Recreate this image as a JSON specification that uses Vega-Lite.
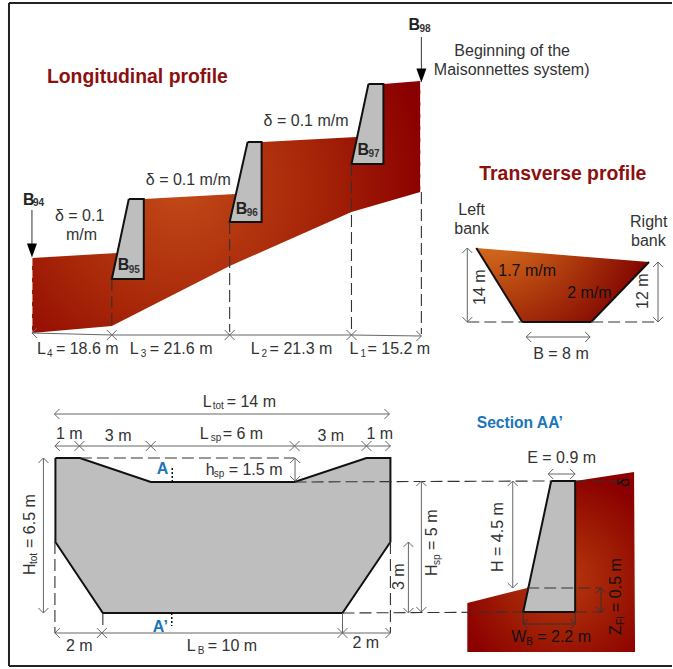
{
"$schema":"https://vega.github.io/schema/vega-lite/v6.json",
"width":673,"height":669,"padding":0,
"autosize":{"type":"fit","contains":"padding"},
"background":"white",
"config":{"view":{"stroke":null},"text":{"font":"Liberation Sans"}},
"datasets":{
"frame":[{"x":9,"y":3,"x2":673,"y2":3},{"x":9,"y":3,"x2":9,"y2":666},{"x":9,"y":666,"x2":673,"y2":666}],
"longitudinal":[{"i":1,"x":32,"y":258},{"i":2,"x":117,"y":253},{"i":3,"x":129,"y":199},{"i":4,"x":144,"y":199},{"i":5,"x":236,"y":194},{"i":6,"x":248,"y":142},{"i":7,"x":263,"y":142},{"i":8,"x":357,"y":137},{"i":9,"x":369,"y":84},{"i":10,"x":384,"y":84},{"i":11,"x":421,"y":81},{"i":12,"x":421,"y":192},{"i":13,"x":352,"y":212},{"i":14,"x":230,"y":266},{"i":15,"x":112,"y":326},{"i":16,"x":32,"y":333}],
"transverse":[{"i":1,"x":477,"y":248},{"i":2,"x":650,"y":262},{"i":3,"x":592,"y":322},{"i":4,"x":523,"y":322}],
"sectionSoil":[{"i":1,"x":576,"y":481},{"i":2,"x":635,"y":472},{"i":3,"x":636,"y":652},{"i":4,"x":468,"y":652},{"i":5,"x":468,"y":603},{"i":6,"x":528,"y":588}],
"masonry":[
{"p":"B95","i":1,"x":129,"y":199},{"p":"B95","i":2,"x":144,"y":199},{"p":"B95","i":3,"x":144,"y":279},{"p":"B95","i":4,"x":112,"y":279},{"p":"B95","i":5,"x":129,"y":199},
{"p":"B96","i":1,"x":248,"y":142},{"p":"B96","i":2,"x":262,"y":142},{"p":"B96","i":3,"x":262,"y":222},{"p":"B96","i":4,"x":230,"y":222},{"p":"B96","i":5,"x":248,"y":142},
{"p":"B97","i":1,"x":369,"y":84},{"p":"B97","i":2,"x":384,"y":84},{"p":"B97","i":3,"x":384,"y":164},{"p":"B97","i":4,"x":352,"y":164},{"p":"B97","i":5,"x":369,"y":84},
{"p":"AA","i":1,"x":552,"y":481},{"p":"AA","i":2,"x":576,"y":481},{"p":"AA","i":3,"x":576,"y":612},{"p":"AA","i":4,"x":524,"y":612},{"p":"AA","i":5,"x":552,"y":481},
{"p":"front","i":1,"x":55.5,"y":458},{"p":"front","i":2,"x":80,"y":458},{"p":"front","i":3,"x":151,"y":482},{"p":"front","i":4,"x":295,"y":482},{"p":"front","i":5,"x":367,"y":458},{"p":"front","i":6,"x":391,"y":458},{"p":"front","i":7,"x":391,"y":542},{"p":"front","i":8,"x":343,"y":613},{"p":"front","i":9,"x":103,"y":613},{"p":"front","i":10,"x":55.5,"y":542},{"p":"front","i":11,"x":55.5,"y":458}],
"dims":[
{"x":32,"y":333,"x2":112,"y2":335},{"x":112,"y":335,"x2":230,"y2":335},{"x":230,"y":335,"x2":352,"y2":335},{"x":352,"y":335,"x2":422,"y2":336},
{"x":468,"y":248,"x2":468,"y2":322},{"x":659,"y":262,"x2":659,"y2":322},{"x":527,"y":337,"x2":591,"y2":337},
{"x":54.5,"y":414,"x2":390,"y2":414},{"x":55,"y":446,"x2":391,"y2":446},
{"x":295.5,"y":458,"x2":295.5,"y2":481},{"x":43.5,"y":458,"x2":43.5,"y2":613},{"x":409,"y":542,"x2":409,"y2":613},
{"x":55,"y":633,"x2":391,"y2":633},{"x":422,"y":481,"x2":422,"y2":612},{"x":513.5,"y":481,"x2":513.5,"y2":588},{"x":549,"y":474,"x2":576,"y2":474},
{"x":343,"y":613,"x2":343,"y2":633}],
"darkDims":[{"x":602,"y":588,"x2":602,"y2":612},{"x":524,"y":624,"x2":576,"y2":624},{"x":524,"y":612,"x2":524,"y2":624},{"x":576,"y":612,"x2":576,"y2":624},{"x":32,"y":210,"x2":32,"y2":244},{"x":422,"y":37,"x2":422,"y2":69}],
"dashes":[
{"x":112,"y":279,"x2":112,"y2":328},{"x":230,"y":222,"x2":230,"y2":332},{"x":352,"y":164,"x2":352,"y2":333},{"x":422,"y":192,"x2":422,"y2":334},
{"x":468,"y":322,"x2":523,"y2":322},{"x":592,"y":322,"x2":660,"y2":322},
{"x":80,"y":458,"x2":295,"y2":458},{"x":295,"y":482,"x2":552,"y2":481},{"x":343,"y":613,"x2":524,"y2":612},
{"x":391,"y":542,"x2":391,"y2":633},{"x":55,"y":542,"x2":55,"y2":633},{"x":103,"y":613,"x2":103,"y2":630},
{"x":528,"y":588,"x2":602,"y2":588},{"x":576,"y":612,"x2":604,"y2":612},{"x":576,"y":481,"x2":625,"y2":481}],
"whiteDashes":[{"x":32,"y":258,"x2":32,"y2":333},{"x":421.5,"y":82,"x2":421.5,"y2":192}],
"dotted":[{"x":172.5,"y":468,"x2":172.5,"y2":482},{"x":172,"y":613,"x2":172,"y2":626}],
"bankEdges":[{"x":477,"y":248,"x2":523,"y2":322},{"x":650,"y":262,"x2":592,"y2":322},{"x":523,"y":322,"x2":592,"y2":322}],
"arrowheads":[
{"x":32,"y":333,"dir":180},{"x":112,"y":335,"dir":0},{"x":112,"y":335,"dir":180},{"x":230,"y":335,"dir":0},{"x":230,"y":335,"dir":180},{"x":352,"y":335,"dir":0},{"x":352,"y":335,"dir":180},{"x":422,"y":336,"dir":0},
{"x":468,"y":248,"dir":270},{"x":468,"y":322,"dir":90},{"x":659,"y":262,"dir":270},{"x":659,"y":322,"dir":90},{"x":527,"y":337,"dir":180},{"x":591,"y":337,"dir":0},
{"x":54.5,"y":414,"dir":180},{"x":390,"y":414,"dir":0},
{"x":55,"y":446,"dir":180},{"x":79.5,"y":446,"dir":0},{"x":79.5,"y":446,"dir":180},{"x":151,"y":446,"dir":0},{"x":151,"y":446,"dir":180},{"x":295,"y":446,"dir":0},{"x":295,"y":446,"dir":180},{"x":367,"y":446,"dir":0},{"x":367,"y":446,"dir":180},{"x":391,"y":446,"dir":0},
{"x":295.5,"y":458,"dir":270},{"x":295.5,"y":481,"dir":90},{"x":43.5,"y":458,"dir":270},{"x":43.5,"y":613,"dir":90},{"x":409,"y":542,"dir":270},{"x":409,"y":613,"dir":90},
{"x":55,"y":633,"dir":180},{"x":102,"y":633,"dir":0},{"x":102,"y":633,"dir":180},{"x":343,"y":633,"dir":0},{"x":343,"y":633,"dir":180},{"x":391,"y":633,"dir":0},
{"x":422,"y":481,"dir":270},{"x":422,"y":612,"dir":90},{"x":513.5,"y":481,"dir":270},{"x":513.5,"y":588,"dir":90},{"x":549,"y":474,"dir":180},{"x":576,"y":474,"dir":0}],
"darkArrowheads":[{"x":602,"y":588,"dir":270},{"x":602,"y":612,"dir":90},{"x":524,"y":624,"dir":180},{"x":576,"y":624,"dir":0}],
"solidArrows":[{"x":32,"y":250.5},{"x":422,"y":75.5}],
"labels":[
{"x":37,"y":349,"t":"L"},{"x":56,"y":349,"t":"= 18.6 m"},{"x":130,"y":349,"t":"L"},{"x":150,"y":349,"t":"= 21.6 m"},{"x":251,"y":349,"t":"L"},{"x":270,"y":349,"t":"= 21.3 m"},{"x":350,"y":349,"t":"L"},{"x":368,"y":349,"t":"= 15.2 m"},
{"x":264,"y":121,"t":"δ  = 0.1 m/m"},{"x":146,"y":180,"t":"δ  = 0.1 m/m"},{"x":55,"y":216,"t":"δ  = 0.1"},{"x":66,"y":235,"t":"m/m"},
{"x":455,"y":51,"t":"Beginning of the"},{"x":434.5,"y":70,"t":"Maisonnettes system)"},
{"x":459,"y":210,"t":"Left"},{"x":455,"y":229,"t":"bank"},{"x":631,"y":222,"t":"Right"},{"x":632,"y":241,"t":"bank"},
{"x":534,"y":354,"t":"B = 8 m"},
{"x":203,"y":402,"t":"L"},{"x":227,"y":402,"t":"= 14 m"},{"x":56,"y":434,"t":"1 m"},{"x":105,"y":436,"t":"3 m"},{"x":200,"y":434,"t":"L"},{"x":223,"y":434,"t":"= 6 m"},{"x":318,"y":436,"t":"3 m"},{"x":367,"y":434,"t":"1 m"},
{"x":206,"y":470,"t":"h"},{"x":229,"y":470,"t":"= 1.5 m"},{"x":528,"y":458,"t":"E = 0.9 m"},
{"x":66,"y":646,"t":"2 m"},{"x":187,"y":646,"t":"L"},{"x":208,"y":646,"t":"= 10 m"},{"x":353,"y":643,"t":"2 m"}],
"labelsOnSoil":[{"x":499,"y":271,"t":"1.7 m/m"},{"x":568,"y":293,"t":"2 m/m"},{"x":512,"y":637,"t":"W"},{"x":538,"y":637,"t":"= 2.2 m"}],
"subs":[{"x":47,"y":354,"t":"4"},{"x":141,"y":354,"t":"3"},{"x":262,"y":354,"t":"2"},{"x":361,"y":354,"t":"1"},{"x":213,"y":406,"t":"tot"},{"x":211,"y":438,"t":"sp"},{"x":214,"y":474,"t":"sp"},{"x":198,"y":651,"t":"B"}],
"subsOnSoil":[{"x":527,"y":642,"t":"B"}],
"vertLabels":[{"x":481,"y":305,"t":"14 m"},{"x":30,"y":575,"t":"H"},{"x":30,"y":548,"t":"= 6.5 m"},{"x":433,"y":576,"t":"H"},{"x":433,"y":550,"t":"= 5 m"},{"x":400,"y":590,"t":"3 m"},{"x":499,"y":572,"t":"H = 4.5 m"},{"x":644,"y":309,"t":"12 m"}],
"vertLabelsOnSoil":[{"x":617,"y":635,"t":"Z"},{"x":617,"y":612,"t":"= 0.5 m"},{"x":625,"y":487,"t":"δ"}],
"vertSubs":[{"x":34,"y":564,"t":"tot"},{"x":438,"y":565,"t":"sp"}],
"vertSubsOnSoil":[{"x":622,"y":625,"t":"FI"}],
"bLabels":[{"x":23,"y":200,"t":"B"},{"x":409,"y":25,"t":"B"},{"x":118,"y":265,"t":"B"},{"x":236,"y":209,"t":"B"},{"x":358,"y":150,"t":"B"}],
"bSubs":[{"x":33,"y":203,"t":"94"},{"x":420,"y":29,"t":"98"},{"x":129,"y":270,"t":"95"},{"x":247,"y":213,"t":"96"},{"x":369,"y":154,"t":"97"}],
"titles":[{"x":47,"y":77,"t":"Longitudinal profile"},{"x":480,"y":174,"t":"Transverse profile"}],
"blue":[{"x":157,"y":469,"t":"A"},{"x":153,"y":627,"t":"A’"}],
"section":[{"x":477.5,"y":423,"t":"Section AA’"}]
},
"encoding":{
"x":{"field":"x","type":"quantitative","scale":{"domain":[0,673],"nice":false,"zero":false},"axis":null},
"y":{"field":"y","type":"quantitative","scale":{"domain":[669,0],"nice":false,"zero":false},"axis":null}
},
"layer":[
{"data":{"name":"frame"},"mark":{"type":"rule","stroke":"#222","strokeWidth":2},"encoding":{"x2":{"field":"x2"},"y2":{"field":"y2"}}},
{"data":{"name":"longitudinal"},"mark":{"type":"line","strokeWidth":0,"fill":{"gradient":"radial","x1":0.38,"y1":0.45,"r1":0,"x2":0.38,"y2":0.45,"r2":0.64,"stops":[{"offset":0,"color":"#c24a18"},{"offset":0.55,"color":"#a62508"},{"offset":1,"color":"#8b0000"}]}},"encoding":{"order":{"field":"i"}}},
{"data":{"name":"transverse"},"mark":{"type":"line","strokeWidth":0,"fill":{"gradient":"radial","x1":0.08,"y1":0.05,"r1":0,"x2":0.08,"y2":0.05,"r2":1,"stops":[{"offset":0,"color":"#ea8a2a"},{"offset":0.5,"color":"#b4420f"},{"offset":1,"color":"#7d0000"}]}},"encoding":{"order":{"field":"i"}}},
{"data":{"name":"sectionSoil"},"mark":{"type":"line","strokeWidth":0,"fill":{"gradient":"radial","x1":0.55,"y1":0.6,"r1":0,"x2":0.55,"y2":0.6,"r2":0.6,"stops":[{"offset":0,"color":"#b83a10"},{"offset":0.5,"color":"#a01e05"},{"offset":1,"color":"#8b0000"}]}},"encoding":{"order":{"field":"i"}}},
{"data":{"name":"whiteDashes"},"mark":{"type":"rule","stroke":"#fff","strokeWidth":1,"strokeDash":[8,4]},"encoding":{"x2":{"field":"x2"},"y2":{"field":"y2"}}},
{"data":{"name":"masonry"},"mark":{"type":"line","fill":"#bebebe","stroke":"#111","strokeWidth":2},"encoding":{"detail":{"field":"p"},"order":{"field":"i"}}},
{"data":{"name":"bankEdges"},"mark":{"type":"rule","stroke":"#111","strokeWidth":2},"encoding":{"x2":{"field":"x2"},"y2":{"field":"y2"}}},
{"data":{"name":"dashes"},"mark":{"type":"rule","stroke":"#333","strokeWidth":1.1,"strokeDash":[12,5]},"encoding":{"x2":{"field":"x2"},"y2":{"field":"y2"}}},
{"data":{"name":"dotted"},"mark":{"type":"rule","stroke":"#111","strokeWidth":1.5,"strokeDash":[2,2]},"encoding":{"x2":{"field":"x2"},"y2":{"field":"y2"}}},
{"data":{"name":"dims"},"mark":{"type":"rule","stroke":"#666","strokeWidth":1},"encoding":{"x2":{"field":"x2"},"y2":{"field":"y2"}}},
{"data":{"name":"darkDims"},"mark":{"type":"rule","stroke":"#333","strokeWidth":1},"encoding":{"x2":{"field":"x2"},"y2":{"field":"y2"}}},
{"data":{"name":"arrowheads"},"mark":{"type":"point","shape":"M-1,-1L0,0L-1,1","size":100,"filled":false,"stroke":"#666","strokeWidth":1,"opacity":1},"encoding":{"angle":{"field":"dir","type":"quantitative","scale":null}}},
{"data":{"name":"darkArrowheads"},"mark":{"type":"point","shape":"M-1,-1L0,0L-1,1","size":100,"filled":false,"stroke":"#333","strokeWidth":1,"opacity":1},"encoding":{"angle":{"field":"dir","type":"quantitative","scale":null}}},
{"data":{"name":"solidArrows"},"mark":{"type":"point","shape":"M-1,-1.4L1,-1.4L0,1.4Z","size":100,"filled":true,"fill":"#000","stroke":null,"opacity":1}},
{"data":{"name":"labels"},"mark":{"type":"text","align":"left","baseline":"middle","fontSize":16,"fill":"#333"},"encoding":{"text":{"field":"t"}}},
{"data":{"name":"labelsOnSoil"},"mark":{"type":"text","align":"left","baseline":"middle","fontSize":16,"fill":"#111"},"encoding":{"text":{"field":"t"}}},
{"data":{"name":"subs"},"mark":{"type":"text","align":"left","baseline":"middle","fontSize":10,"fill":"#333"},"encoding":{"text":{"field":"t"}}},
{"data":{"name":"subsOnSoil"},"mark":{"type":"text","align":"left","baseline":"middle","fontSize":10,"fill":"#111"},"encoding":{"text":{"field":"t"}}},
{"data":{"name":"vertLabels"},"mark":{"type":"text","align":"left","baseline":"middle","fontSize":16,"fill":"#333","angle":270},"encoding":{"text":{"field":"t"}}},
{"data":{"name":"vertLabelsOnSoil"},"mark":{"type":"text","align":"left","baseline":"middle","fontSize":16,"fill":"#111","angle":270},"encoding":{"text":{"field":"t"}}},
{"data":{"name":"vertSubs"},"mark":{"type":"text","align":"left","baseline":"middle","fontSize":10,"fill":"#333","angle":270},"encoding":{"text":{"field":"t"}}},
{"data":{"name":"vertSubsOnSoil"},"mark":{"type":"text","align":"left","baseline":"middle","fontSize":10,"fill":"#111","angle":270},"encoding":{"text":{"field":"t"}}},
{"data":{"name":"bLabels"},"mark":{"type":"text","align":"left","baseline":"middle","fontSize":16,"fontWeight":"bold","fill":"#222"},"encoding":{"text":{"field":"t"}}},
{"data":{"name":"bSubs"},"mark":{"type":"text","align":"left","baseline":"middle","fontSize":10,"fontWeight":"bold","fill":"#333"},"encoding":{"text":{"field":"t"}}},
{"data":{"name":"titles"},"mark":{"type":"text","align":"left","baseline":"middle","fontSize":19.4,"fontWeight":"bold","fill":"#8b1010"},"encoding":{"text":{"field":"t"}}},
{"data":{"name":"blue"},"mark":{"type":"text","align":"left","baseline":"middle","fontSize":16,"fontWeight":"bold","fill":"#1b75bc"},"encoding":{"text":{"field":"t"}}},
{"data":{"name":"section"},"mark":{"type":"text","align":"left","baseline":"middle","fontSize":15.6,"fontWeight":"bold","fill":"#1b75bc"},"encoding":{"text":{"field":"t"}}}
]
}
